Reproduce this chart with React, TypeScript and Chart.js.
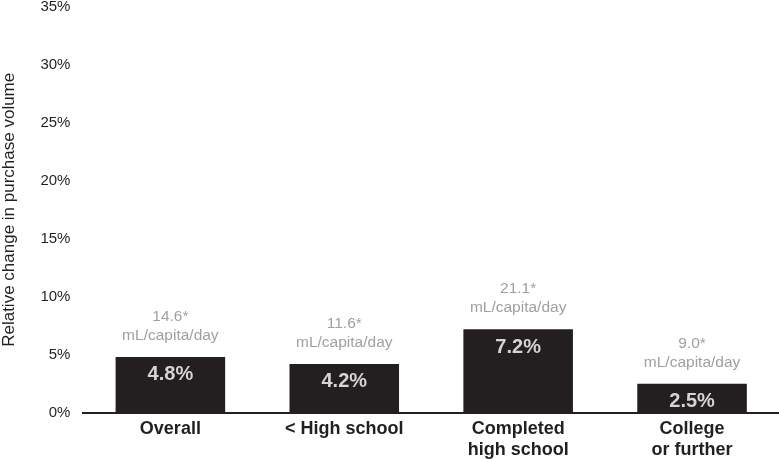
import { useEffect, useRef } from "react";
import { Chart, registerables } from "chart.js";

Chart.register(...registerables);

const categories = [["Overall"], ["< High school"], ["Completed", "high school"], ["College", "or further"]];
const relativeChange = [4.8, 4.2, 7.2, 2.5];
const absoluteChange = ["14.6*", "11.6*", "21.1*", "9.0*"];
const unitLabel = "mL/capita/day";

const FONT = "Arial, 'Liberation Sans', sans-serif";

const barLabels = {
  id: "barLabels",
  afterDatasetsDraw(chart: Chart) {
    const ctx = chart.ctx;
    const meta = chart.getDatasetMeta(0);
    ctx.save();
    ctx.textAlign = "center";
    ctx.textBaseline = "middle";
    meta.data.forEach((bar: any, i: number) => {
      ctx.font = `bold 20px ${FONT}`;
      ctx.fillStyle = "#d4d4d4";
      ctx.fillText(relativeChange[i].toFixed(1) + "%", bar.x, bar.y + 18);
      ctx.font = `15.5px ${FONT}`;
      ctx.fillStyle = "#a0a0a0";
      ctx.fillText(unitLabel, bar.x, bar.y - 21);
      ctx.fillText(absoluteChange[i], bar.x, bar.y - 40);
    });
    ctx.restore();
  },
};

function App() {
  const canvasRef = useRef<HTMLCanvasElement | null>(null);

  useEffect(() => {
    if (!canvasRef.current) return;
    const chart = new Chart(canvasRef.current, {
      type: "bar",
      data: {
        labels: categories,
        datasets: [
          {
            data: relativeChange,
            backgroundColor: "#231f20",
            barPercentage: 0.63,
            categoryPercentage: 1,
          },
        ],
      },
      options: {
        animation: false,
        responsive: true,
        maintainAspectRatio: false,
        layout: { padding: 0 },
        plugins: { legend: { display: false }, tooltip: { enabled: false } },
        scales: {
          x: {
            grid: { display: false, drawTicks: false },
            border: { display: true, color: "#231f20", width: 2 },
            ticks: {
              color: "#231f20",
              font: { family: FONT, size: 18, weight: "bold", lineHeight: 1.15 },
              padding: 6,
            },
          },
          y: {
            min: 0,
            max: 35,
            grid: { display: false, drawTicks: false },
            border: { display: false },
            ticks: {
              stepSize: 5,
              color: "#231f20",
              font: { family: FONT, size: 15 },
              padding: 13,
              callback: (v) => v + "%",
            },
            title: {
              display: true,
              text: "Relative change in purchase volume",
              color: "#231f20",
              font: { family: FONT, size: 17 },
              padding: { top: 0, bottom: 8 },
            },
          },
        },
      },
      plugins: [barLabels],
    });
    return () => chart.destroy();
  }, []);

  return (
    <div style={{ position: "fixed", left: -1, top: -15, width: 780, height: 481, background: "#fff" }}>
      <canvas ref={canvasRef} />
    </div>
  );
}

export default App;
